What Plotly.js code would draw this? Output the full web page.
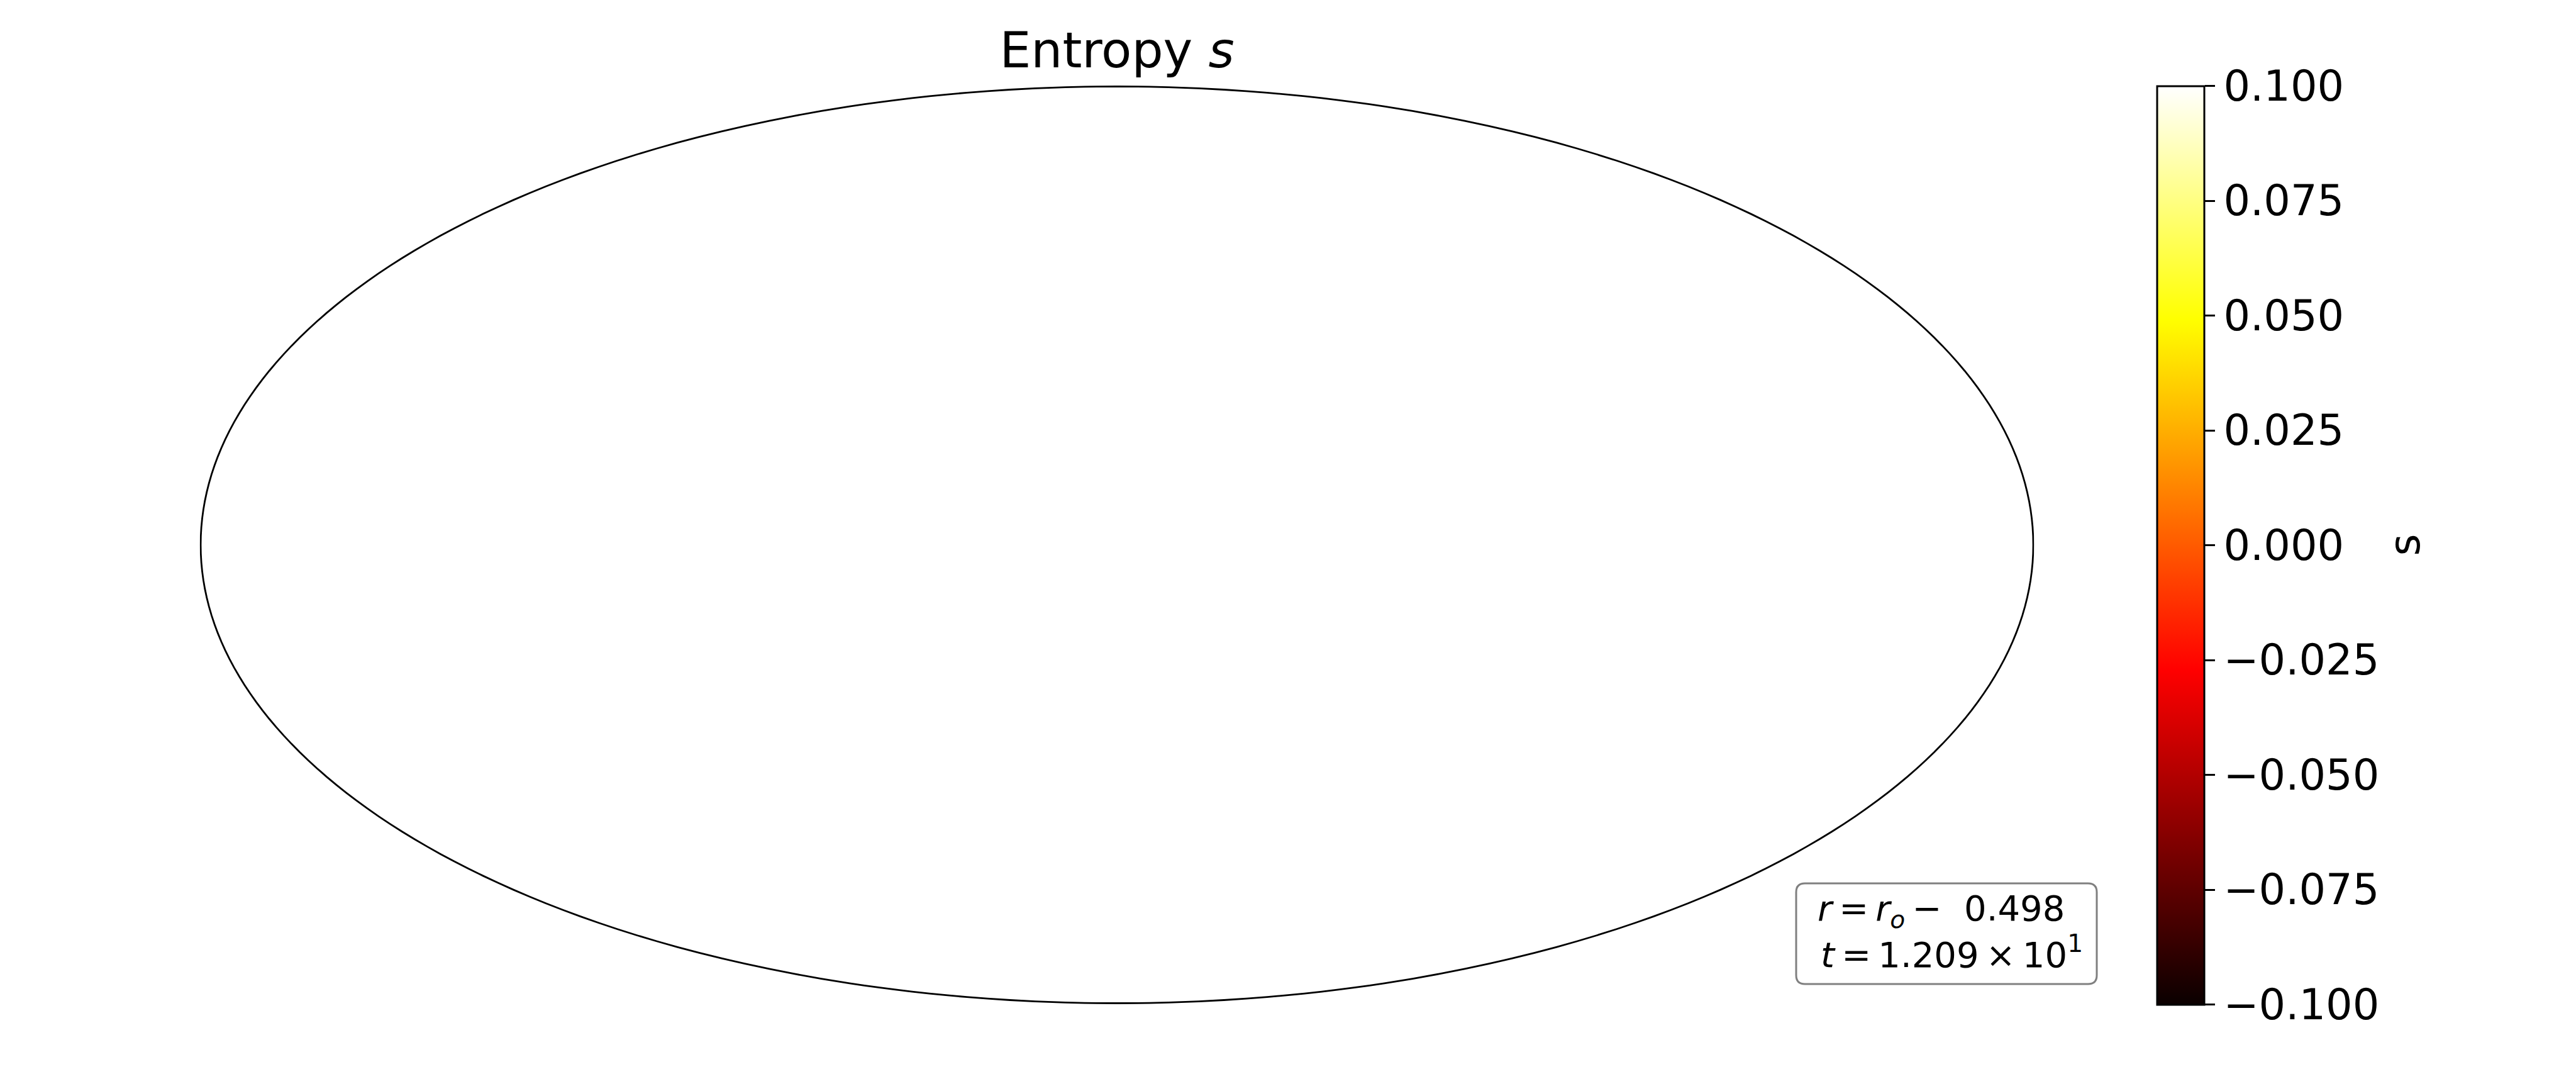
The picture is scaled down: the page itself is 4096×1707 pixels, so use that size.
<!DOCTYPE html>
<html>
<head>
<meta charset="utf-8">
<script src="https://cdn.plot.ly/plotly-3.0.1.min.js"></script>
<style>html,body{margin:0;padding:0;background:#fff;}#chart{width:4096px;height:1707px;}</style>
</head>
<body>
<div id="chart"></div>
<script>
// ---- data ----
// The map field shows no visible values; one empty sample keeps the colour scale alive.
const entropyLon = [null];
const entropyLat = [null];
const entropyVal = [0];
const fieldRange = [-0.1, 0.1];
const tickValues = [-0.1, -0.075, -0.05, -0.025, 0, 0.025, 0.05, 0.075, 0.1];
const tickLabels = ['\u22120.100', '\u22120.075', '\u22120.050', '\u22120.025', '0.000', '0.025', '0.050', '0.075', '0.100'];
const hotStops = [0, 0.365, 0.746, 1];
const hotColors = ['rgb(10,0,0)', 'rgb(255,0,0)', 'rgb(255,255,0)', 'rgb(255,255,255)'];
const radiusOffset = '0.498';
const timeMantissa = '1.209';
const timeExponent = '1';
const titleText = 'Entropy <i>s</i>';
const colorbarLabel = 's';

// ---- layout ----
const W = 4096, H = 1707;
const px = x => x / W;
const py = y => 1 - y / H;
const FONT = 'DejaVu Sans';
const TS = '\u2009';

const colorscale = hotStops.map((s, i) => [s, hotColors[i]]);

const trace = {
  type: 'scattergeo',
  lon: entropyLon,
  lat: entropyLat,
  mode: 'markers',
  hoverinfo: 'skip',
  marker: {
    size: 1,
    color: entropyVal,
    cmin: fieldRange[0],
    cmax: fieldRange[1],
    colorscale: colorscale,
    showscale: true,
    colorbar: {
      xref: 'paper', yref: 'paper',
      x: px(3430), xanchor: 'left', xpad: 0,
      y: py(136.5), yanchor: 'top', ypad: 0,
      lenmode: 'pixels', len: 1460,
      thicknessmode: 'pixels', thickness: 75,
      outlinewidth: 3, outlinecolor: '#000',
      ticks: 'outside', ticklen: 16, tickwidth: 3, tickcolor: '#000',
      tickmode: 'array', tickvals: tickValues, ticktext: tickLabels,
      tickfont: {family: FONT, size: 67, color: '#000'}
    }
  }
};

// rounded info box
function roundRect(x0, y0, x1, y1, r) {
  const X0 = px(x0), X1 = px(x1), Y0 = py(y0), Y1 = py(y1);
  const rx = r / W, ry = r / H;
  return `M ${X0 + rx},${Y0} L ${X1 - rx},${Y0} Q ${X1},${Y0} ${X1},${Y0 - ry} ` +
         `L ${X1},${Y1 + ry} Q ${X1},${Y1} ${X1 - rx},${Y1} L ${X0 + rx},${Y1} ` +
         `Q ${X0},${Y1} ${X0},${Y1 + ry} L ${X0},${Y0 - ry} Q ${X0},${Y0} ${X0 + rx},${Y0} Z`;
}

const layout = {
  width: W, height: H,
  margin: {l: 0, r: 0, t: 0, b: 0, pad: 0},
  paper_bgcolor: '#fff',
  showlegend: false,
  font: {family: FONT, color: '#000'},
  title: {
    text: titleText,
    font: {family: FONT, size: 79, color: '#000'},
    xref: 'paper', yref: 'paper',
    x: px(1776), xanchor: 'center',
    y: py(79), yanchor: 'middle'
  },
  geo: {
    domain: {x: [px(318.5), px(3233.6)], y: [py(1594.5), py(137.5)]},
    projection: {type: 'mollweide'},
    showframe: true, framecolor: '#000', framewidth: 2.8,
    showland: false, showocean: false, showlakes: false, showrivers: false,
    showcoastlines: false, showcountries: false, showsubunits: false,
    bgcolor: 'rgba(0,0,0,0)',
    lonaxis: {showgrid: false, range: [-180, 180]},
    lataxis: {showgrid: false, range: [-90, 90]}
  },
  shapes: [{
    type: 'path', xref: 'paper', yref: 'paper',
    path: roundRect(2856, 1404, 3334, 1564, 14),
    line: {color: 'rgb(128,128,128)', width: 3},
    fillcolor: '#fff', layer: 'above'
  }],
  annotations: [
    {
      xref: 'paper', yref: 'paper', x: px(2888), y: py(1447), xanchor: 'left', yanchor: 'middle',
      showarrow: false, align: 'left',
      text: '<i>r</i>' + TS + '=' + TS + '<i>r</i><sub><i>o</i></sub>' + TS + '\u2212  ' + radiusOffset,
      font: {family: FONT, size: 56, color: '#000'}
    },
    {
      xref: 'paper', yref: 'paper', x: px(2893), y: py(1513), xanchor: 'left', yanchor: 'middle',
      showarrow: false, align: 'left',
      text: '<i>t</i>' + TS + '=' + TS + timeMantissa + TS + '\u00d7' + TS + '10<sup>' + timeExponent + '</sup>',
      font: {family: FONT, size: 56, color: '#000'}
    },
    {
      xref: 'paper', yref: 'paper', x: px(3824), y: py(866.5), xanchor: 'center', yanchor: 'middle',
      showarrow: false, textangle: -90,
      text: colorbarLabel,
      font: {family: FONT, size: 67, color: '#000'}
    }
  ]
};

Plotly.newPlot('chart', [trace], layout, {displayModeBar: false, staticPlot: true});
</script>
</body>
</html>
